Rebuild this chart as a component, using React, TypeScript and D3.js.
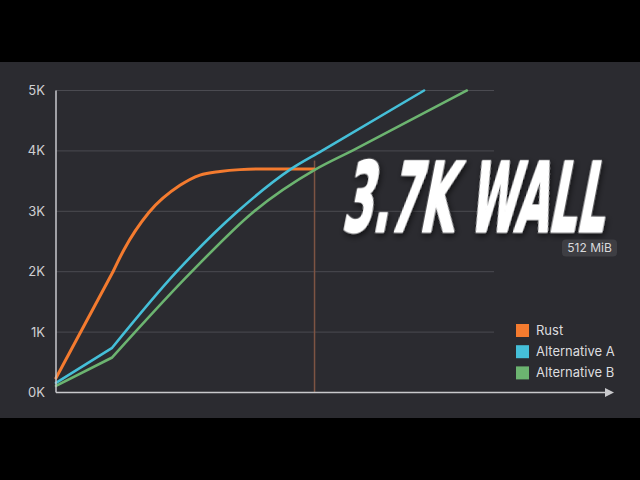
import * as d3 from "d3";

// x is an unlabeled load axis (0..100), y in thousands
const rustX = [0, 10.2, 12.2, 16.7, 22.3, 25.9, 29.5, 33.1, 37, 46.5];
const rustY = [0.24, 1.99, 2.36, 2.98, 3.43, 3.6, 3.66, 3.69, 3.7, 3.7];

const altAX = [0, 10.1, 21.7, 32.7, 42.1, 47.8, 66.2];
const altAY = [0.16, 0.74, 2.0, 3.0, 3.69, 4.0, 5.0];

const altBX = [0, 10.1, 24.4, 35.5, 46.6, 53.4, 73.9];
const altBY = [0.11, 0.58, 2.0, 2.99, 3.69, 4.01, 5.0];

const yTicks = [0, 1, 2, 3, 4, 5];
const wallX = 46.5;
const wallTop = 3.84;

const seriesNames = ["Rust", "Alternative A", "Alternative B"];
const seriesColors = ["#f47b2f", "#45bfd8", "#6cb470"];

const W = 640;
const H = 480;

export default function App() {
  const x = d3.scaleLinear().domain([0, 100]).range([56, 612]);
  const y = d3.scaleLinear().domain([0, 5]).range([392.5, 90.5]);

  const smooth = d3
    .line<[number, number]>()
    .x((d) => x(d[0]))
    .y((d) => y(d[1]))
    .curve(d3.curveMonotoneX);
  const straight = d3
    .line<[number, number]>()
    .x((d) => x(d[0]))
    .y((d) => y(d[1]));

  const series = [
    d3.zip(rustX, rustY) as [number, number][],
    d3.zip(altAX, altAY) as [number, number][],
    d3.zip(altBX, altBY) as [number, number][],
  ];
  const widths = [3, 2.6, 2.6];

  // first segment is a straight ramp, the rest is smoothed
  const pathFor = (s: [number, number][]) => {
    const head = straight(s.slice(0, 2)) || "";
    const tail = (smooth(s.slice(1)) || "").replace(/^M[^A-Za-z]*/, "");
    return head + tail;
  };

  const fontUi = "Inter, 'Noto Sans', 'Liberation Sans', sans-serif";

  return (
    <svg
      width={W}
      height={H}
      style={{ position: "absolute", left: 0, top: 0, display: "block" }}
    >
      <defs>
        <filter id="shadow" x="-10%" y="-10%" width="130%" height="140%">
          <feDropShadow dx="2" dy="3" stdDeviation="3" floodColor="#000" floodOpacity="0.6" />
        </filter>
      </defs>
      <rect width={W} height={H} fill="#000" />
      <rect x={0} y={62} width={W} height={356} fill="#2b2b30" />

      {/* grid */}
      {yTicks
        .filter((t) => t > 0)
        .map((t) => (
          <line
            key={t}
            x1={x(0)}
            x2={494}
            y1={y(t)}
            y2={y(t)}
            stroke="#4b4b51"
            strokeWidth={1}
          />
        ))}

      {/* y labels */}
      {yTicks.map((t) => (
        <text
          key={t}
          x={45}
          y={y(t)}
          dy="0.35em"
          textAnchor="end"
          fill="#cfcfd2"
          fontSize={13}
          fontFamily={fontUi}
        >
          {t}K
        </text>
      ))}

      {/* wall marker */}
      <line
        x1={x(wallX)}
        x2={x(wallX)}
        y1={y(wallTop)}
        y2={y(0)}
        stroke="#7d5443"
        strokeWidth={1.5}
      />

      {series.map((s, i) => (
        <path
          key={i}
          d={pathFor(s)}
          fill="none"
          stroke={seriesColors[i]}
          strokeWidth={widths[i]}
          strokeLinejoin="round"
          strokeLinecap="round"
        />
      ))}

      {/* axes */}
      <line x1={x(0)} x2={x(0)} y1={y(5)} y2={y(0)} stroke="#c9c9cc" strokeWidth={1.5} />
      <line x1={x(0)} x2={606} y1={y(0)} y2={y(0)} stroke="#c9c9cc" strokeWidth={1.5} />
      <path
        d={`M605,${y(0) - 4.5} L614,${y(0)} L605,${y(0) + 4.5} Z`}
        fill="#c9c9cc"
      />

      {/* title, slanted by hand so it reads as a heavy italic */}
      <g transform="translate(341, 231.5) skewX(-11)" filter="url(#shadow)">
        <text
          x={0}
          y={0}
          fill="#ffffff"
          stroke="#ffffff"
          strokeWidth={2.5}
          strokeLinejoin="round"
          fontSize={97}
          fontWeight={700}
          fontFamily="'Liberation Sans Narrow', 'DejaVu Sans Condensed', 'Liberation Sans', sans-serif"
          textLength={262}
          lengthAdjust="spacingAndGlyphs"
        >
          3.7K WALL
        </text>
      </g>

      {/* badge */}
      <rect x={562} y={239.5} width={55} height={17} rx={4} fill="#3e3e43" />
      <text
        x={589.5}
        y={248}
        dy="0.35em"
        textAnchor="middle"
        fill="#d9d9dc"
        fontSize={12}
        fontFamily={fontUi}
      >
        512 MiB
      </text>

      {/* legend */}
      {seriesNames.map((name, i) => (
        <g key={name} transform={`translate(516, ${324 + i * 21.2})`}>
          <rect width={13} height={13} fill={seriesColors[i]} />
          <text
            x={20}
            y={6.5}
            dy="0.35em"
            fill="#dcdcdf"
            fontSize={13}
            fontFamily={fontUi}
          >
            {name}
          </text>
        </g>
      ))}
    </svg>
  );
}
